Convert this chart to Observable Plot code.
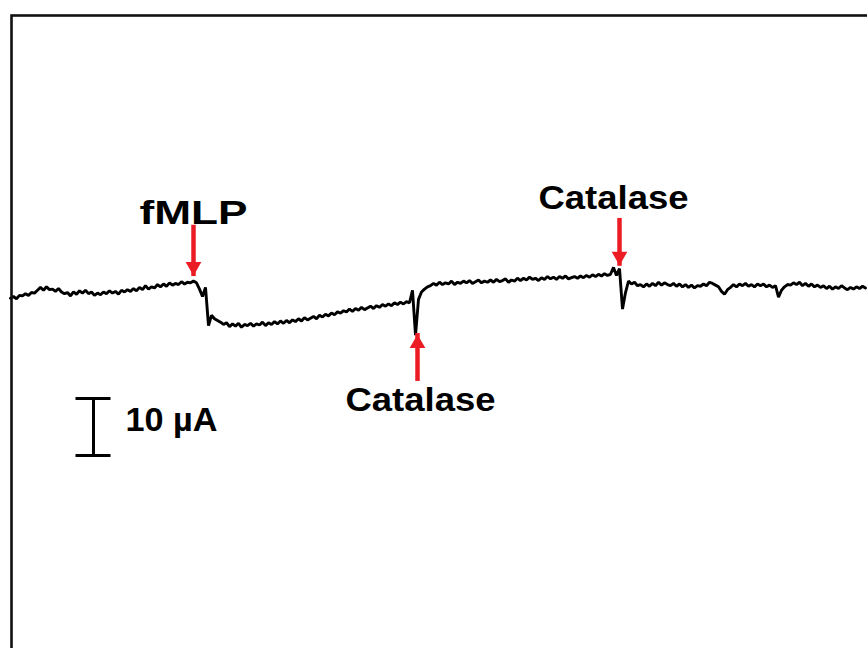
<!DOCTYPE html>
<html>
<head>
<meta charset="utf-8">
<script src="https://cdn.jsdelivr.net/npm/d3@7"></script>
<script src="https://cdn.jsdelivr.net/npm/@observablehq/plot@0.6"></script>
<style>
  html, body { margin: 0; padding: 0; background: #ffffff; }
  #chart { width: 867px; height: 648px; overflow: hidden; }
</style>
</head>
<body>
<div id="chart"></div>
<script>
// Amperometric current trace (µA, arbitrary offset), one sample every 3 time units
const sampleStep = 3;
const current = [
  0.4, 0.7, 0.3, 0.9, 0.8, 1.2, 0.9, 1.4, 1.3, 1.8,
  2.3, 1.8, 2.4, 1.9, 2.0, 1.6, 2.1, 1.5, 1.2, 1.4,
  0.8, 1.5, 1.1, 1.7, 1.3, 1.8, 1.2, 1.5, 0.9, 1.3,
  1.0, 1.5, 1.2, 1.7, 1.3, 1.6, 1.1, 1.8, 1.5, 1.9,
  1.6, 2.1, 1.7, 2.3, 1.9, 2.6, 2.0, 2.4, 2.2, 2.8,
  2.4, 2.9, 2.5, 3.1, 2.7, 3.0, 2.8, 3.3, 2.9, 3.2,
  3.1, 3.4, 3.1, 2.0, 0.7, 2.3, -4.4, -2.6, -3.2, -3.5,
  -3.8, -4.2, -3.9, -4.6, -4.1, -4.5, -4.0, -4.7, -4.2, -4.4,
  -4.0, -4.5, -4.1, -4.3, -3.8, -4.4, -3.9, -4.2, -3.7, -4.1,
  -3.6, -4.0, -3.5, -3.9, -3.4, -3.7, -3.2, -3.6, -3.0, -3.4,
  -3.1, -2.8, -3.2, -2.6, -2.9, -2.4, -2.7, -2.2, -2.5, -2.0,
  -2.2, -1.8, -2.0, -1.5, -1.9, -1.4, -1.7, -1.2, -1.6, -1.3,
  -1.0, -1.4, -0.9, -1.2, -0.7, -1.0, -0.6, -0.9, -0.4, -0.7,
  -0.3, -0.6, -0.2, -0.4, 1.8, -6.1, 0.2, 1.5, 2.0, 2.4,
  2.6, 3.0, 2.7, 3.2, 2.8, 3.1, 2.9, 3.4, 2.8, 3.2,
  3.0, 3.4, 3.1, 3.5, 3.0, 3.3, 3.6, 3.1, 3.4, 3.2,
  3.6, 3.2, 3.7, 3.3, 3.5, 3.8, 3.2, 3.6, 3.4, 3.9,
  3.5, 3.9, 3.6, 4.1, 3.7, 3.9, 3.5, 4.0, 3.7, 4.2,
  3.8, 4.1, 3.7, 4.2, 3.9, 4.3, 3.8, 4.0, 4.2, 3.9,
  4.3, 4.0, 4.4, 4.1, 4.5, 4.2, 4.6, 4.3, 4.7, 4.4,
  4.6, 5.8, 4.4, 5.6, -1.5, 1.4, 3.4, 2.9, 3.2, 2.6,
  2.8, 2.4, 2.9, 2.5, 3.0, 2.6, 3.2, 2.7, 3.1, 2.8,
  2.6, 3.0, 2.5, 2.9, 2.4, 2.8, 2.3, 2.7, 2.2, 2.6,
  2.5, 2.9, 2.6, 3.2, 3.0, 2.7, 2.4, 1.6, 1.1, 1.9,
  2.3, 2.8, 2.4, 2.9, 2.6, 3.0, 2.5, 2.8, 2.4, 2.9,
  2.6, 2.9, 2.4, 2.7, 2.3, 2.6, 0.6, 1.8, 2.4, 2.8,
  2.7, 3.1, 2.8, 3.2, 2.6, 3.0, 2.5, 2.9, 2.4, 2.7,
  2.3, 2.6, 2.1, 2.5, 2.0, 2.4, 2.1, 2.6, 2.2, 1.9,
  2.3, 2.0, 2.4, 2.1, 2.5, 2.2
];

// Additions (events) and their annotation placement (data units)
const eventNames = ["fMLP", "Catalase", "Catalase"];
const eventTimes = [183, 407, 609];
const arrowTips = [4.2, -5.8, 6.0];
const arrowTails = [13.2, -14.2, 14.4];
const arrowDirs = ["down", "up", "down"];
const labelTimes = [183, 410, 603];
const labelValues = [15.4, -17.5, 17.9];

// Scale bar
const scaleBarValue = 10;          // µA
const scaleBarLabel = "10 µA";
const scaleBarTime = 83;
const scaleBarTop = -17.2;
const scaleBarCapHalf = 17.5;      // time units

const trace = current.map((v, i) => ({t: i * sampleStep, v}));
const events = eventNames.map((name, i) => ({
  name, t: eventTimes[i], tip: arrowTips[i], tail: arrowTails[i], dir: arrowDirs[i],
  lt: labelTimes[i], lv: labelValues[i]
}));
const barV = [{t: scaleBarTime, top: scaleBarTop, bottom: scaleBarTop - scaleBarValue}];
const barCaps = [scaleBarTop, scaleBarTop - scaleBarValue].map(y => ({
  y, x1: scaleBarTime - scaleBarCapHalf, x2: scaleBarTime + scaleBarCapHalf
}));
const barText = [{t: scaleBarTime + 32, y: scaleBarTop - 3.9, label: scaleBarLabel}];

const RED = "#ec1c24";
const FONT = "Liberation Sans, Arial, Helvetica, sans-serif";
// rendered label widths (px), matching the stretched lettering of the original
const labelWidths = {"fMLP": 108, "Catalase": 150, "10 µA": 92};

try {
  const chart = Plot.plot({
    width: 867,
    height: 648,
    marginLeft: 11,
    marginTop: 15,
    marginRight: 0,
    marginBottom: 0,
    style: {background: "#ffffff", fontFamily: FONT},
    x: {domain: [1, 857], axis: null},
    y: {domain: [-61.05, 50], axis: null},
    marks: [
      Plot.line(trace, {x: "t", y: "v", stroke: "#000", strokeWidth: 2.9, strokeLinejoin: "miter"}),
      Plot.ruleX(events, {x: "t", y1: "tip", y2: "tail", stroke: RED, strokeWidth: 4.5}),
      Plot.dot(events.filter(d => d.dir === "down"), {x: "t", y: "tip", symbol: "triangle2", r: 7.5, rotate: 180, fill: RED, dy: -10}),
      Plot.dot(events.filter(d => d.dir === "up"), {x: "t", y: "tip", symbol: "triangle2", r: 7.5, fill: RED, dy: 10}),
      Plot.text(events, {x: "lt", y: "lv", text: "name", fontSize: 34, fontWeight: "bold", fill: "#000"}),
      Plot.ruleX(barV, {x: "t", y1: "top", y2: "bottom", stroke: "#000", strokeWidth: 3}),
      Plot.ruleY(barCaps, {y: "y", x1: "x1", x2: "x2", stroke: "#000", strokeWidth: 3}),
      Plot.text(barText, {x: "t", y: "y", text: "label", textAnchor: "start", fontSize: 33, fontWeight: "bold", fill: "#000"}),
      Plot.frame({stroke: "#111", strokeWidth: 2.6, insetRight: -10, insetBottom: -10})
    ]
  });
  chart.querySelectorAll("text").forEach(el => {
    const w = labelWidths[el.textContent];
    if (w) {
      el.setAttribute("textLength", w);
      el.setAttribute("lengthAdjust", "spacingAndGlyphs");
    }
  });
  document.getElementById("chart").appendChild(chart);
} catch (e) {
  document.getElementById("chart").textContent = "ERR " + e.message;
}
</script>
</body>
</html>
